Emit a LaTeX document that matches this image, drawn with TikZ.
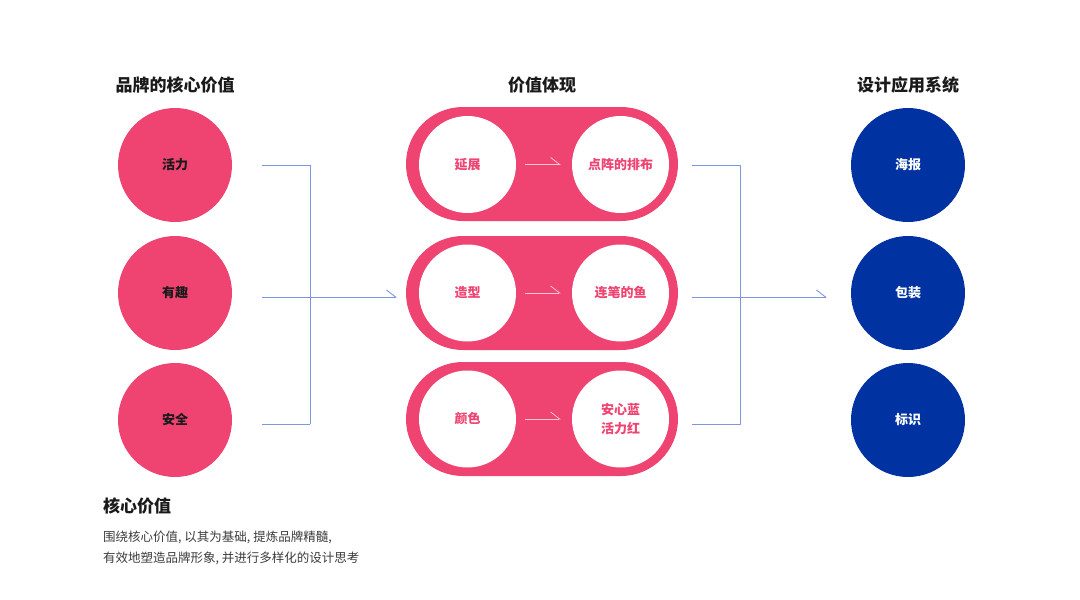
\documentclass[tikz,border=0pt]{standalone}
\usepackage{fontspec}
\setmainfont{Noto Sans CJK SC}
\usetikzlibrary{arrows.meta,positioning}
\definecolor{pk}{HTML}{EF4371}
\definecolor{bl}{HTML}{0033A1}
\definecolor{ln}{HTML}{7D96E0}
\definecolor{tx}{HTML}{1A1A1A}
\begin{document}
\begin{tikzpicture}[x=1pt,y=-1pt,
  outer/.style={circle,fill=pk,minimum size=114pt,inner sep=0pt,font=\fontsize{13}{15}\selectfont\bfseries,text=tx},
  appl/.style={circle,fill=bl,minimum size=114pt,inner sep=0pt,font=\fontsize{13}{15}\selectfont\bfseries,text=white},
  pill/.style={rectangle,rounded corners=57pt,fill=pk,minimum width=272pt,minimum height=114pt,inner sep=0pt},
  inner/.style={circle,fill=white,minimum size=97pt,inner sep=0pt,font=\fontsize{13}{15}\selectfont\bfseries,text=pk,align=center},
  title/.style={font=\fontsize{17}{20}\selectfont\bfseries,text=tx},
  conn/.style={draw=ln,line width=0.9pt,dash pattern=on 0.6pt off 0.4pt},
  harp/.style={-{Straight Barb[left,length=9pt,width=14pt,line width=0.9pt]}},
  parr/.style={draw=white!70!pk,line width=0.8pt,-{Straight Barb[left,length=9pt,width=14pt,line width=0.8pt]}}
]
\useasboundingbox (0,0) rectangle (1080,600);
\fill[white] (0,0) rectangle (1080,600);

% titles
\node[title] (t1) at (175,85) {品牌的核心价值};
\node[title] (t2) at (542,85) {价值体现};
\node[title] (t3) at (908,85) {设计应用系统};

% left circles
\node[outer] (l1) at (175,165) {活力};
\node[outer] (l2) at (175,293) {有趣};
\node[outer] (l3) at (175,420) {安全};

% pills
\node[pill] (p1) at (542,164) {};
\node[pill] (p2) at (542,293) {};
\node[pill] (p3) at (542,419) {};
\node[inner] (a1) at (467.5,164.5) {延展};
\node[inner] (b1) at (620.5,164.5) {点阵的排布};
\node[inner] (a2) at (467.5,293) {造型};
\node[inner] (b2) at (620.5,293) {连笔的鱼};
\node[inner] (a3) at (467.5,419) {颜色};
\node[inner,font=\fontsize{13}{19}\selectfont\bfseries] (b3) at (620.5,419) {安心蓝\\活力红};
\draw[parr,shorten <=9pt,shorten >=11pt] (a1) -- (b1);
\draw[parr,shorten <=9pt,shorten >=11pt] (a2) -- (b2);
\draw[parr,shorten <=9pt,shorten >=11pt] (a3) -- (b3);

% right circles
\node[appl] (r1) at (908,165) {海报};
\node[appl] (r2) at (908,293) {包装};
\node[appl] (r3) at (908,420) {标识};

% left connectors
\coordinate (j1a) at (310,165);
\coordinate (j1b) at (310,424);
\draw[conn] ([xshift=30pt]l1.east) -- (j1a) -- (j1b) -- (262,424);
\draw[conn,harp] (262,297) -- ([xshift=-9pt]p2.west |- 0,297);

% right connectors
\coordinate (j2a) at (740,165);
\coordinate (j2b) at (740,424);
\draw[conn] (692,165) -- (j2a) -- (j2b) -- (692,424);
\draw[conn,harp] (692,297) -- ([xshift=-24pt]r2.west |- 0,297);

% bottom text
\node[title,anchor=west,inner sep=0pt] (h) at (103,506) {核心价值};
\node[anchor=north west,align=left,text=tx!85,font=\fontsize{12.5}{21}\selectfont,inner sep=0pt] (d) at (103,531)
  {围绕核心价值, 以其为基础, 提炼品牌精髓,\\有效地塑造品牌形象, 并进行多样化的设计思考};
\end{tikzpicture}
\end{document}
